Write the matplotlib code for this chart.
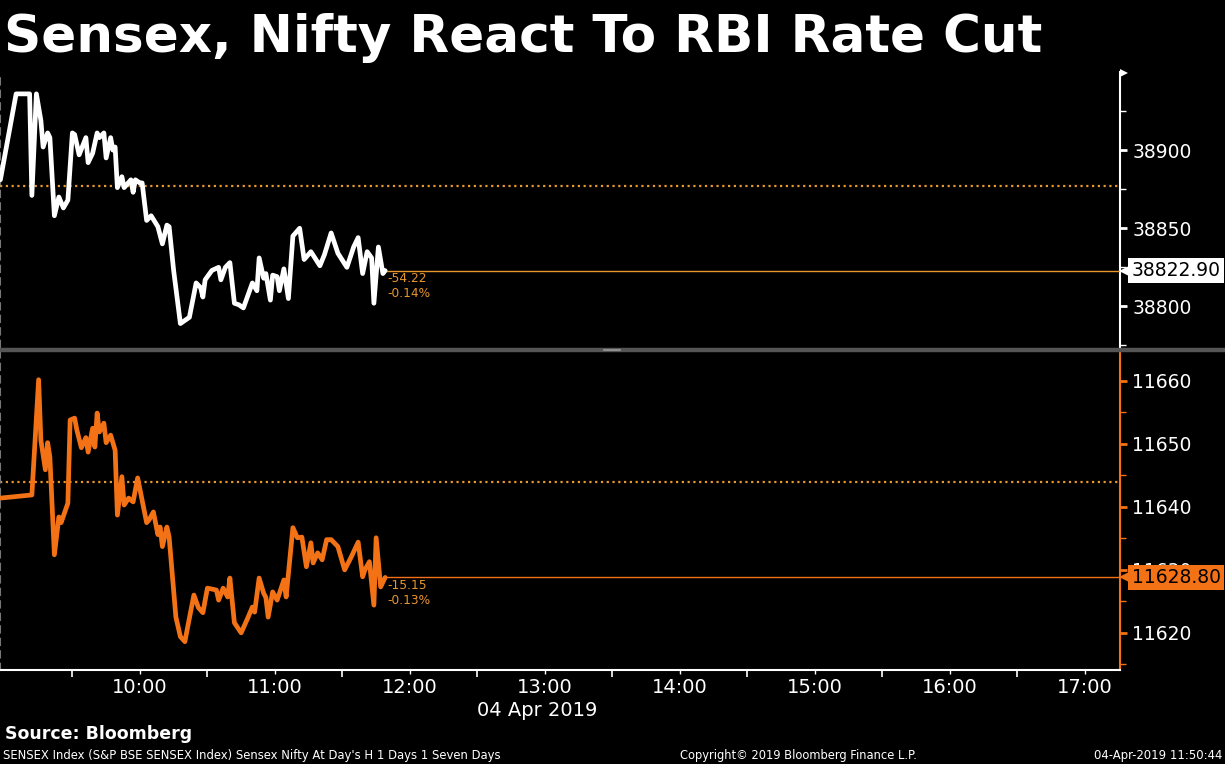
import pandas as pd
import matplotlib
matplotlib.use('Agg')
import matplotlib.pyplot as plt
import matplotlib.dates as mdates
from matplotlib.lines import Line2D

DAY = '2019-04-04'

sensex_time = ['08:58', '09:05', '09:11', '09:12', '09:14', '09:16', '09:17', '09:19', '09:20', '09:22',
               '09:24', '09:26', '09:28', '09:30', '09:31', '09:33', '09:36', '09:37', '09:39', '09:41',
               '09:42', '09:44', '09:45', '09:47', '09:48', '09:49', '09:50', '09:52', '09:53', '09:56',
               '09:57', '09:58', '10:00', '10:01', '10:03', '10:05', '10:08', '10:10', '10:12', '10:13',
               '10:15', '10:18', '10:20', '10:22', '10:25', '10:27', '10:28', '10:29', '10:32', '10:35',
               '10:36', '10:38', '10:40', '10:42', '10:44', '10:46', '10:48', '10:50', '10:52', '10:53',
               '10:55', '10:56', '10:58', '10:59', '11:01', '11:02', '11:04', '11:06', '11:08', '11:11',
               '11:13', '11:16', '11:20', '11:22', '11:25', '11:28', '11:32', '11:35', '11:37', '11:39',
               '11:41', '11:43', '11:44', '11:46', '11:48', '11:49']
sensex = [38881, 38936, 38936, 38871, 38936, 38919, 38902, 38911, 38908, 38858,
          38870, 38863, 38868, 38911, 38910, 38897, 38908, 38892, 38898, 38911,
          38908, 38911, 38895, 38908, 38900, 38902, 38876, 38883, 38876, 38881,
          38873, 38881, 38879, 38879, 38855, 38858, 38851, 38840, 38852, 38851,
          38823, 38789, 38791, 38793, 38815, 38812, 38806, 38817, 38823, 38825,
          38817, 38825, 38828, 38802, 38801, 38799, 38807, 38815, 38810, 38831,
          38818, 38821, 38804, 38820, 38819, 38810, 38824, 38805, 38845, 38850,
          38830, 38835, 38826, 38833, 38847, 38834, 38825, 38838, 38844, 38821,
          38835, 38831, 38802, 38838, 38821, 38822.9]

nifty_time = ['08:58', '09:12', '09:15', '09:16', '09:18', '09:19', '09:20', '09:22', '09:24', '09:25',
              '09:28', '09:29', '09:31', '09:32', '09:34', '09:36', '09:37', '09:39', '09:40', '09:41',
              '09:42', '09:44', '09:45', '09:47', '09:49', '09:50', '09:52', '09:53', '09:55', '09:57',
              '09:59', '10:03', '10:04', '10:06', '10:08', '10:09', '10:10', '10:12', '10:13', '10:16',
              '10:18', '10:20', '10:21', '10:24', '10:26', '10:28', '10:30', '10:34', '10:35', '10:37',
              '10:39', '10:40', '10:42', '10:45', '10:48', '10:50', '10:51', '10:53', '10:55', '10:56',
              '10:57', '10:59', '11:01', '11:04', '11:05', '11:08', '11:10', '11:12', '11:14', '11:16',
              '11:17', '11:19', '11:21', '11:23', '11:25', '11:28', '11:31', '11:34', '11:37', '11:39',
              '11:40', '11:42', '11:44', '11:45', '11:47', '11:49']
nifty = [11641.4, 11641.9, 11660.2, 11650.6, 11645.9, 11650.2, 11647.9, 11632.4, 11638.4, 11637.5,
         11640.6, 11653.8, 11654.1, 11652.2, 11649.4, 11651.0, 11648.7, 11652.5, 11649.5, 11654.9,
         11651.9, 11653.3, 11650.2, 11651.4, 11649.0, 11638.7, 11644.8, 11640.3, 11641.4, 11640.8,
         11644.6, 11637.5, 11637.9, 11639.2, 11635.6, 11636.8, 11633.7, 11636.8, 11635.2, 11622.5,
         11619.4, 11618.6, 11620.5, 11626.0, 11624.0, 11623.2, 11627.1, 11626.8, 11625.2, 11627.1,
         11625.7, 11628.7, 11621.6, 11620.0, 11622.4, 11624.1, 11623.3, 11628.7, 11626.3, 11625.6,
         11622.5, 11626.5, 11625.2, 11628.4, 11625.7, 11636.7, 11635.1, 11635.2, 11630.5, 11634.3,
         11631.1, 11632.7, 11631.6, 11634.8, 11634.8, 11633.7, 11630.0, 11632.1, 11634.4, 11628.9,
         11630.0, 11631.3, 11624.4, 11635.1, 11627.3, 11628.8]

sensex_prev_close = 38877.12
nifty_prev_close = 11643.95
sensex_change = ['-54.22', '-0.14%']
nifty_change = ['-15.15', '-0.13%']

sensex_ticks = [38800, 38850, 38900]
sensex_minor = [38775, 38825, 38875, 38925]
nifty_ticks = [11620, 11630, 11640, 11650, 11660]
nifty_minor = [11615, 11625, 11635, 11645, 11655]

WHITE = '#ffffff'
ORANGE = '#f47216'
GOLD = '#e8962e'

W, H = 1225, 764


def box(l, t, r, b):
    return [l / W, 1 - b / H, (r - l) / W, (b - t) / H]


def to_dt(times):
    return pd.to_datetime([f'{DAY} {t}' for t in times])


fig = plt.figure(figsize=(W / 100, H / 100), dpi=100, facecolor='black')
ax1 = fig.add_axes(box(0, 72, 1120, 347))
ax2 = fig.add_axes(box(0, 352, 1120, 670), sharex=ax1)

x1 = to_dt(sensex_time)
x2 = to_dt(nifty_time)

for ax, x, y, col, prev, chg, ticks, minor, spine_col, last_col in [
        (ax1, x1, sensex, WHITE, sensex_prev_close, sensex_change, sensex_ticks, sensex_minor, WHITE, GOLD),
        (ax2, x2, nifty, ORANGE, nifty_prev_close, nifty_change, nifty_ticks, nifty_minor, ORANGE, ORANGE)]:
    ax.set_facecolor('black')
    ax.plot(x, y, color=col, lw=3.4, solid_joinstyle='round', solid_capstyle='round', zorder=4)
    ax.axhline(prev, color=GOLD, lw=1.6, ls=(0, (1, 1.6)), zorder=2)
    last = y[-1]
    ax.plot([x[-1], pd.Timestamp(f'{DAY} 17:20')], [last, last], color=last_col, lw=1.0, zorder=3)
    ax.annotate(chg[0] + '\n' + chg[1], xy=(x[-1], last), xytext=(1.5, -1), textcoords='offset points',
                color=GOLD, fontsize=8.8, va='top', ha='left', linespacing=1.25, zorder=5)
    ax.yaxis.tick_right()
    ax.set_yticks(ticks)
    ax.set_yticks(minor, minor=True)
    ax.tick_params(axis='y', which='major', direction='out', length=5, width=2,
                   colors=spine_col, labelcolor=WHITE, labelsize=13.5, pad=4)
    ax.tick_params(axis='y', which='minor', direction='out', length=4, width=1, colors=spine_col)
    for s in ['top', 'bottom']:
        ax.spines[s].set_visible(False)
    ax.spines['right'].set_color(spine_col)
    ax.spines['right'].set_linewidth(1.5)
    ax.spines['left'].set_color('#777777')
    ax.spines['left'].set_linestyle((0, (3, 3)))
    ax.spines['left'].set_linewidth(1.5)
    # current value tag on the right axis
    ax.annotate(f'{last:.2f}', xy=(1, last), xycoords=('axes fraction', 'data'),
                xytext=(8.5, 0), textcoords='offset points', ha='left', va='center',
                fontsize=13.5, color='black', zorder=10, annotation_clip=False,
                bbox=dict(boxstyle='square,pad=0.18', fc=spine_col, ec='none'))
    ax.plot([1.0042], [last], marker='<', ms=9, mew=0, color=spine_col,
            transform=ax.get_yaxis_transform(), clip_on=False, zorder=11)

ax1.set_ylim(38774, 38950)
ax2.set_ylim(11614.1, 11664.6)

# small flag at the top of the upper axis
ax1.plot([1.0035], [0.995], marker='>', ms=6, mew=0, color=WHITE,
         transform=ax1.transAxes, clip_on=False, zorder=11)

ax1.set_xlim(pd.Timestamp(f'{DAY} 08:57:50'), pd.Timestamp(f'{DAY} 17:15:35'))
ax1.tick_params(axis='x', which='both', bottom=False, labelbottom=False)

ax2.spines['bottom'].set_visible(True)
ax2.spines['bottom'].set_color(WHITE)
ax2.spines['bottom'].set_linewidth(1.5)
ax2.xaxis.set_major_locator(mdates.HourLocator(byhour=range(10, 18)))
ax2.xaxis.set_minor_locator(mdates.MinuteLocator(byminute=[30]))
ax2.xaxis.set_major_formatter(mdates.DateFormatter('%H:%M'))
ax2.tick_params(axis='x', which='major', direction='out', length=3, width=1, colors=WHITE,
                labelsize=14, pad=3)
ax2.tick_params(axis='x', which='minor', direction='out', length=5, width=1.2, colors=WHITE)

# panel separator
fig.add_artist(Line2D([0, 1], [1 - 349.5 / H] * 2, color='#555555', lw=3.2))
fig.add_artist(Line2D([604 / W, 620 / W], [1 - 349.5 / H] * 2, color='#9a9a9a', lw=1.2))

fig.text(537 / W, 1 - 710 / H, '04 Apr 2019', color=WHITE, fontsize=14, ha='center', va='center')

fig.text(4 / W, 1 - 38 / H, 'Sensex, Nifty React To RBI Rate Cut', color=WHITE, fontsize=37.2,
         fontweight='bold', ha='left', va='center')
fig.text(5 / W, 1 - 734 / H, 'Source: Bloomberg', color=WHITE, fontsize=12.5, fontweight='bold',
         ha='left', va='center')
fig.text(3 / W, 1 - 755 / H, "SENSEX Index (S&P BSE SENSEX Index) Sensex Nifty At Day's H 1 Days 1 Seven Days",
         color=WHITE, fontsize=8.4, ha='left', va='center')
fig.text(680 / W, 1 - 755 / H, 'Copyright\u00a9 2019 Bloomberg Finance L.P.', color=WHITE, fontsize=8.3,
         ha='left', va='center')
fig.text(1222 / W, 1 - 755 / H, '04-Apr-2019 11:50:44', color=WHITE, fontsize=8.4,
         ha='right', va='center')

fig.savefig('out.png', dpi=100, facecolor='black')
